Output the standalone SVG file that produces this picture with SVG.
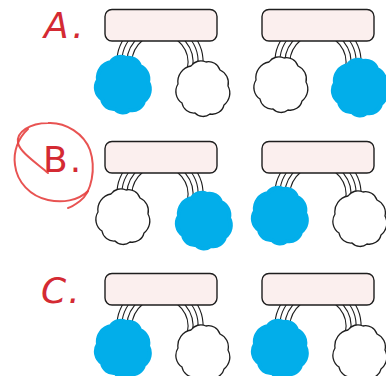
<svg xmlns="http://www.w3.org/2000/svg" xmlns:xlink="http://www.w3.org/1999/xlink" width="386" height="376" viewBox="0 0 386 376">
<style>
.bar{fill:#fbefee;stroke:#1e1e1e;stroke-width:1.4}
.arc{fill:none;stroke:#1e1e1e;stroke-width:1.1}
.cw{fill:#ffffff;stroke:#1e1e1e;stroke-width:1.3}
.cb{fill:#02aeea;stroke:#02aeea;stroke-width:4;stroke-linejoin:round}
.lbl{font-family:"DejaVu Sans","Liberation Sans",sans-serif;font-size:36px;fill:#d42a33}
.ring{fill:none;stroke:#e5403f;stroke-width:2;stroke-opacity:0.9;stroke-linecap:round}
</style>
<defs>
<path id="cloud" d="M -12,-22 A 12 12 0 0 1 3,-26 A 12 12 0 0 1 17,-18 A 14 14 0 0 1 25,-2 A 15 15 0 0 1 21,17 A 12 12 0 0 1 7,26 A 11 11 0 0 1 -8,25 A 12 12 0 0 1 -21,15 A 14 14 0 0 1 -25,-4 A 16 16 0 0 1 -12,-22 Z"/>
<g id="arcs">
<path d="M 132.6,68 A 28 28 0 1 1 187.4,68"/>
<path d="M 127.5,68 A 33 33 0 1 1 192.5,68"/>
<path d="M 122.5,68 A 38 38 0 1 1 197.5,68"/>
<path d="M 117.4,68 A 43 43 0 1 1 202.6,68"/>
</g>
</defs>
<g id="connectors" class="arc">
<use xlink:href="#arcs"/>
<use xlink:href="#arcs" x="158"/>
<use xlink:href="#arcs" y="132"/>
<use xlink:href="#arcs" x="158" y="132"/>
<use xlink:href="#arcs" y="264"/>
<use xlink:href="#arcs" x="158" y="264"/>
</g>
<g id="labelA"><text class="lbl" x="44" y="38" font-style="italic">A<tspan dx="3">.</tspan></text></g>
<g id="labelB"><text class="lbl" x="43" y="172">B<tspan dx="2">.</tspan></text>
<path class="ring" d="M 48,173 C 35,162 20,152 18,143 C 16,132 30,123 48,123 C 66,122 84,134 90,150 C 96,168 92,192 80,201 C 76,204 72,207 68,208"/>
<path class="ring" d="M 28,129 C 18,138 13,152 15,165 C 17,182 30,196 48,200 C 62,203 78,201 88,191"/>
</g>
<g id="labelC"><text class="lbl" x="41" y="303" font-style="italic">C<tspan dx="2">.</tspan></text></g>
<g id="barA1"><rect class="bar" x="105" y="9.5" width="112" height="31.5" rx="7"/></g>
<g id="barA2"><rect class="bar" x="262" y="9.5" width="112" height="31.5" rx="7"/></g>
<g id="barB1"><rect class="bar" x="105" y="141.5" width="112" height="31.5" rx="7"/></g>
<g id="barB2"><rect class="bar" x="262" y="141.5" width="112" height="31.5" rx="7"/></g>
<g id="barC1"><rect class="bar" x="105" y="273.5" width="112" height="31.5" rx="7"/></g>
<g id="barC2"><rect class="bar" x="262" y="273.5" width="112" height="31.5" rx="7"/></g>
<g id="cloudA1"><use xlink:href="#cloud" class="cb" transform="translate(123,84)"/></g>
<g id="cloudA2"><use xlink:href="#cloud" class="cw" transform="translate(203,88)"/></g>
<g id="cloudA3"><use xlink:href="#cloud" class="cw" transform="translate(281,84)"/></g>
<g id="cloudA4"><use xlink:href="#cloud" class="cb" transform="translate(360,87)"/></g>
<g id="cloudB1"><use xlink:href="#cloud" class="cw" transform="translate(123,216)"/></g>
<g id="cloudB2"><use xlink:href="#cloud" class="cb" transform="translate(204,220)"/></g>
<g id="cloudB3"><use xlink:href="#cloud" class="cb" transform="translate(280,215)"/></g>
<g id="cloudB4"><use xlink:href="#cloud" class="cw" transform="translate(360,218)"/></g>
<g id="cloudC1"><use xlink:href="#cloud" class="cb" transform="translate(123,348)"/></g>
<g id="cloudC2"><use xlink:href="#cloud" class="cw" transform="translate(203,352)"/></g>
<g id="cloudC3"><use xlink:href="#cloud" class="cb" transform="translate(280,348)"/></g>
<g id="cloudC4"><use xlink:href="#cloud" class="cw" transform="translate(360,352)"/></g>
</svg>
